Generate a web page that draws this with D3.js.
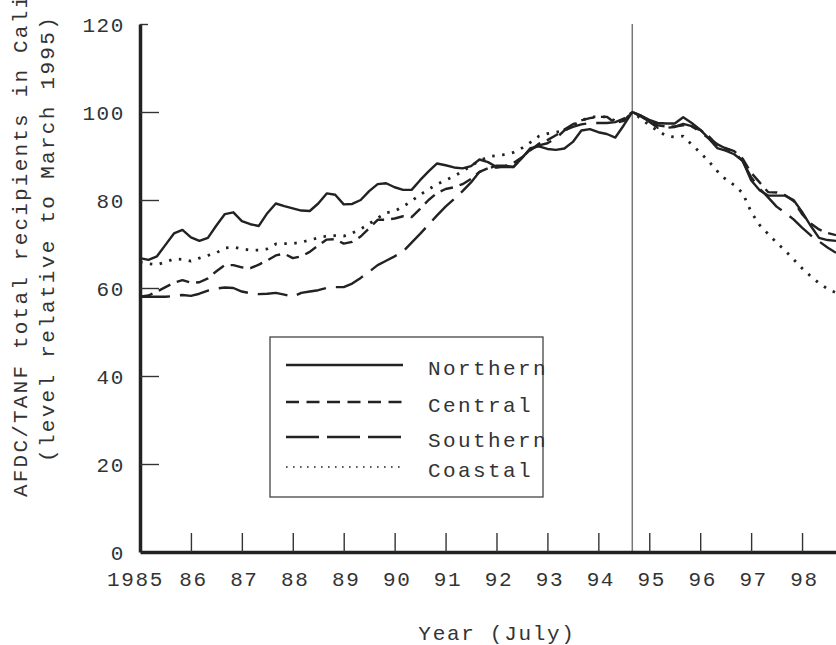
<!DOCTYPE html>
<html>
<head>
<meta charset="utf-8">
<script src="https://cdn.jsdelivr.net/npm/d3@7"></script>
<style>
  body { margin: 0; background: #fff; }
  svg { display: block; }
  text { font-family: "Liberation Mono", "Courier New", monospace; fill: #333; }
</style>
</head>
<body>
<div id="chart"></div>
<script>
// months since July 1985, sampled every 2 months
var months = d3.range(0, 166, 2);
var yearLabels = ["1985","86","87","88","89","90","91","92","93","94","95","96","97","98"];
var yTicks = [0, 20, 40, 60, 80, 100, 120];
var marchIndex = 116; // March 1995 = 100

var northern = [66.8,66.4,67.2,69.8,72.4,73.2,71.5,70.7,71.4,74.2,
  76.8,77.2,75.2,74.5,74.1,77,79.2,78.6,78.1,77.6,
  77.5,79.2,81.5,81.2,79,79.1,80,82,83.6,83.8,
  82.9,82.3,82.3,84.5,86.5,88.3,87.9,87.4,87.2,87.7,
  89.2,88.6,87.5,87.5,87.5,89.5,91.8,92.2,91.6,91.4,
  91.7,93.2,95.8,96.1,95.4,95,94.2,97,100,99.2,
  98.2,97.5,97.4,97.4,98.8,97.5,96,94,91.8,91.2,
  90.4,88.9,84.5,82.2,81,81,81,80,77.3,74.2,
  71.4,70.9,70.7];
var central = [58,58.3,59.2,60.2,61.2,61.8,61.2,61.3,62.2,63.8,
  65.2,65.2,64.7,64.5,65.3,66.3,67.4,67.8,66.8,67.2,
  68.2,69.7,71,71.1,70.1,70.5,71.7,73.6,75.5,75.5,
  75.8,76.3,76.1,78,80,81.6,82.5,82.9,83.6,84.8,
  86.4,87.2,87.4,87.7,88.4,89.7,91.3,92.8,93.6,94.7,
  96,97.2,98.1,98.6,98.9,98.9,97.5,98,100,99,
  97.9,97,96.7,96.7,97,96.7,95.9,94.5,92.5,91.8,
  91.1,89.4,86.2,84,81.8,81.7,81.1,79.8,76.8,74.7,
  73.3,72.5,72];
var southern = [58,58,58,58,58.2,58.4,58.2,58.7,59.4,59.9,
  60.1,60,59.2,58.8,58.6,58.7,58.9,58.5,58,58.9,
  59.2,59.5,60,60.2,60.2,61,62.3,63.7,65.2,66.2,
  67.2,68.3,70.3,72.3,74.4,76.5,78.5,80.2,82,84,
  86.4,87.1,87.8,87.8,87.5,89.6,91.5,92.4,92.9,94,
  95.8,96.6,97.2,97.5,97.5,97.5,97.7,98.5,100,99.2,
  97.8,96.4,96.4,96.6,97.3,96.8,95.5,94,92.7,91.7,
  91,88.8,85.2,82.6,80.6,78.5,77.1,75.6,73.7,72,
  70.6,69.2,68];
var coastal = [65.9,65.5,65.3,65.9,66.6,66.5,66.1,66.8,67.4,68,
  69.1,69.3,68.9,68.6,68.6,68.9,70,70.1,70.1,70.4,
  70.9,71.4,71.8,71.9,71.8,72.5,73.4,74.6,75.9,77.1,
  77.5,78.5,79.8,81.2,82.4,83.6,84.5,85.4,86.5,87.8,
  88.9,89.8,90.1,90.3,90.8,91.8,93.1,94.5,95.1,95.4,
  95.8,97,98,98.9,98.9,98.9,98,98.2,100,98.5,
  97,95.7,94.6,94.3,94.5,92.6,90.8,88.8,86.6,84.7,
  83.4,81.6,77.3,74.3,72.3,70.3,68.5,66.5,64.5,62.7,
  61.1,59.8,58.9];

var regions = ["Northern", "Central", "Southern", "Coastal"];
var seriesValues = [northern, central, southern, coastal];
var dashes = [null, "13,7", "30,10", "2.5,7.5"];
var legendDashes = [null, "13,7.5", "33,8", "1.6,5.4"];

var width = 836, height = 645;
var fontSize = 21;

var svg = d3.select("#chart").append("svg")
    .attr("width", width)
    .attr("height", height);

var x = d3.scaleLinear().domain([0, 164]).range([140, 836]);
var y = d3.scaleLinear().domain([0, 120]).range([552, 24]);

// march 1995 reference line
svg.append("line")
    .attr("x1", x(marchIndex)).attr("x2", x(marchIndex))
    .attr("y1", y(120)).attr("y2", y(0))
    .attr("stroke", "#777")
    .attr("stroke-width", 1.5);

// legend box
var legend = svg.append("g").attr("class", "legend");
legend.append("rect")
    .attr("x", 270).attr("y", 337)
    .attr("width", 273).attr("height", 160)
    .attr("fill", "#fff")
    .attr("stroke", "#444")
    .attr("stroke-width", 1.3);

var line = d3.line()
    .x(function(d, i) { return x(months[i]); })
    .y(function(d) { return y(d); });

seriesValues.forEach(function(vals, k) {
    svg.append("path")
        .datum(vals)
        .attr("d", line)
        .attr("fill", "none")
        .attr("stroke", "#222")
        .attr("stroke-width", k == 3 ? 2.8 : 2.4)
        .attr("stroke-linejoin", "round")
        .attr("stroke-dasharray", dashes[k]);
});

var legendRows = [365, 402, 437, 467];
regions.forEach(function(name, k) {
    legend.append("line")
        .attr("x1", 286).attr("x2", 403)
        .attr("y1", legendRows[k]).attr("y2", legendRows[k])
        .attr("stroke", "#222")
        .attr("stroke-width", k == 3 ? 1.6 : 2.4)
        .attr("stroke-dasharray", legendDashes[k]);
    legend.append("text")
        .attr("x", 428)
        .attr("y", legendRows[k] + 10)
        .attr("font-size", fontSize)
        .attr("letter-spacing", 2.4)
        .text(name);
});

// axes
var xAxis = svg.append("g")
    .attr("transform", "translate(0," + y(0) + ")")
    .call(d3.axisBottom(x)
        .tickValues(d3.range(0, 157, 12))
        .tickSize(-19)
        .tickSizeOuter(0)
        .tickFormat(function(d, i) { return yearLabels[i]; }));
xAxis.select(".domain").attr("stroke", "#222").attr("stroke-width", 3.5);
xAxis.selectAll(".tick line").attr("stroke", "#333").attr("stroke-width", 1.4);
xAxis.selectAll(".tick text")
    .attr("y", 34).attr("dy", null)
    .attr("x", function(d, i) { return i == 0 ? -5 : 2; })
    .attr("font-size", fontSize)
    .attr("letter-spacing", 1.6)
    .attr("fill", "#333");

var yAxis = svg.append("g")
    .attr("transform", "translate(140,0)")
    .call(d3.axisLeft(y)
        .tickValues(yTicks)
        .tickSize(-19)
        .tickSizeOuter(0)
        .tickPadding(15));
yAxis.select(".domain").attr("stroke", "#222").attr("stroke-width", 3.5);
yAxis.selectAll(".tick line").attr("stroke", "#333").attr("stroke-width", 1.4)
    .attr("x2", function(d) { return d == 120 ? 8 : d == 0 ? 0 : 19; });
yAxis.selectAll(".tick text")
    .attr("dy", "0.34em")
    .attr("font-size", fontSize)
    .attr("letter-spacing", 1.6)
    .attr("fill", "#333");
svg.selectAll(".tick text").attr("font-family", null);

// axis titles
svg.append("text")
    .attr("x", 497).attr("y", 640)
    .attr("text-anchor", "middle")
    .attr("font-size", fontSize)
    .attr("letter-spacing", 1.7)
    .text("Year (July)");

svg.append("text")
    .attr("transform", "translate(27,497)rotate(-90)")
    .attr("font-size", fontSize)
    .attr("letter-spacing", 2.2)
    .text("AFDC/TANF total recipients in California");

svg.append("text")
    .attr("transform", "translate(54,462)rotate(-90)")
    .attr("font-size", fontSize)
    .attr("letter-spacing", 2.3)
    .text("(level relative to March 1995)");
</script>
</body>
</html>
